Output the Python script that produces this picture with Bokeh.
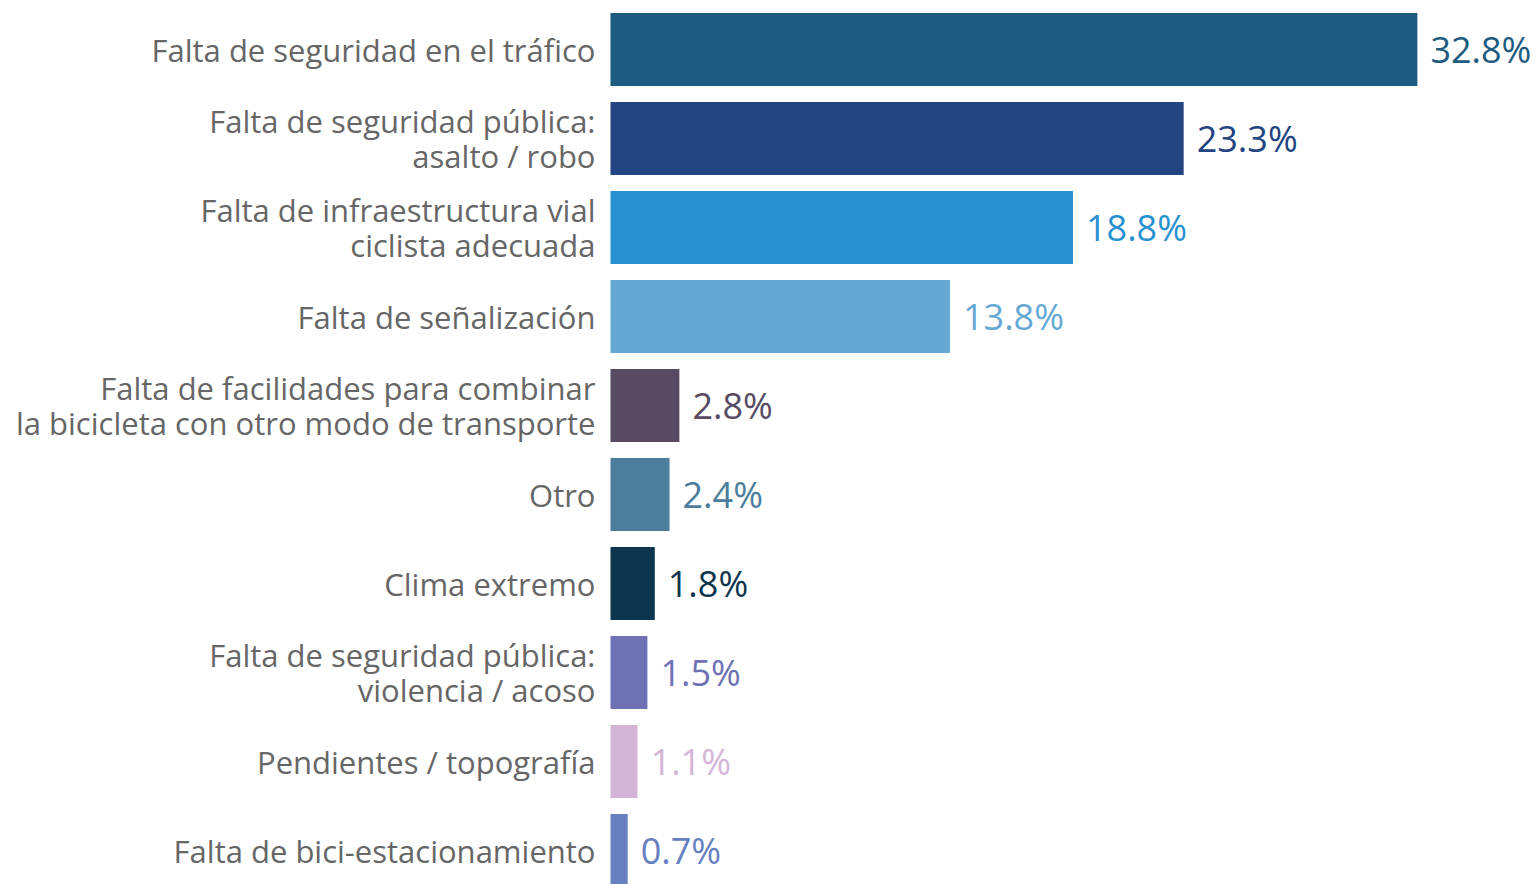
from bokeh.plotting import figure
from bokeh.models import ColumnDataSource, Range1d
from bokeh.core.properties import value
from bokeh.embed import file_html
from bokeh.resources import INLINE

categories = [
    "Falta de seguridad en el tráfico",
    "Falta de seguridad pública:\nasalto / robo",
    "Falta de infraestructura vial\nciclista adecuada",
    "Falta de señalización",
    "Falta de facilidades para combinar\nla bicicleta con otro modo de transporte",
    "Otro",
    "Clima extremo",
    "Falta de seguridad pública:\nviolencia / acoso",
    "Pendientes / topografía",
    "Falta de bici-estacionamiento",
]
values = [32.8, 23.3, 18.8, 13.8, 2.8, 2.4, 1.8, 1.5, 1.1, 0.7]
colors = ["#1D5B80", "#224481", "#2790D0", "#65A8D3", "#574A62",
          "#4C7D9C", "#0D354D", "#6E72B5", "#D4B5D8", "#6680C0"]

W, H = 1536, 884
zero_px = 610.0
px_per = 24.6
step = 89.0
top_px = 49.0

pos = list(range(len(categories)))
src = ColumnDataSource(dict(
    y=pos, v=values, c=colors, cat=categories,
    lab=[f"{v:.1f}%" for v in values],
    zero=[0] * len(values),
))

p = figure(width=W, height=H, output_backend="svg", toolbar_location=None,
           x_range=Range1d(-zero_px / px_per, (W - zero_px) / px_per),
           y_range=Range1d(-top_px / step + H / step, -top_px / step),
           min_border=0, outline_line_color=None)
p.xaxis.visible = False
p.yaxis.visible = False
p.xgrid.visible = False
p.ygrid.visible = False

p.hbar(y="y", left=0, right="v", height=0.82, fill_color="c", line_color=None, source=src)

p.text(x="zero", y="y", text="cat", source=src, x_offset=-15,
       text_align="right", text_baseline="middle",
       text_font=value("Open Sans"), text_font_size="31px",
       text_color="#666666", text_line_height=0.82)

p.text(x="v", y="y", text="lab", source=src, x_offset=13,
       text_align="left", text_baseline="middle",
       text_font=value("Open Sans"), text_font_size="36px",
       text_color="c")

open("out.html", "w").write(file_html(p, INLINE))
